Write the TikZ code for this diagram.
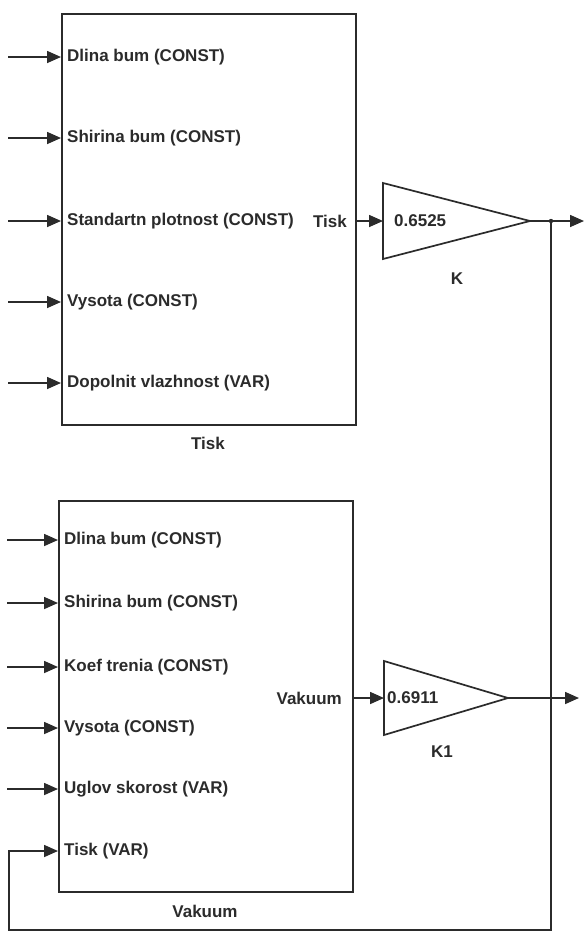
\documentclass[tikz,border=0pt]{standalone}
\usepackage{fontspec}
\setmainfont{Liberation Sans}
\usetikzlibrary{arrows.meta}
\definecolor{ink}{HTML}{2B2B2B}
\begin{document}
\begin{tikzpicture}[x=1pt,y=-1pt,
  wire/.style={draw=ink, line width=1.6pt},
  sig/.style={wire, -{Triangle[length=14pt,width=12pt]}},
  blk/.style={draw=ink, line width=1.7pt, anchor=north west, inner sep=0pt},
  lbl/.style={font=\fontsize{17}{20}\selectfont\bfseries, text=ink, inner sep=0pt},
  gain/.style={draw=ink, line width=1.7pt, line join=miter, fill=white},
]
\useasboundingbox (0,0) rectangle (585,932);
\fill[white] (0,0) rectangle (585,932);

% ---------- block Tisk ----------
\node[blk, minimum width=294pt, minimum height=411pt] (tisk) at (61,13) {};
\node[lbl] (tiskname) at (208,443) {Tisk};

\foreach \yy/\nm/\txt in {57/a/{Dlina bum (CONST)},
                         138/b/{Shirina bum (CONST)},
                         221/c/{Standartn plotnost (CONST)},
                         302/d/{Vysota (CONST)},
                         383/e/{Dopolnit vlazhnost (VAR)}}{
  \coordinate (tsrc\nm) at (8,\yy);
  \coordinate (tin\nm) at (61,\yy);
  \draw[sig] (tsrc\nm) -- (tin\nm);
  \node[lbl, anchor=west] (tlab\nm) at (67,\yy) {\txt};
}
\node[lbl, anchor=east] (tout) at (347,221) {Tisk};
\coordinate (toutp) at (355,221);

% ---------- gain K ----------
\coordinate (kA) at (383,183);
\coordinate (kB) at (383,259);
\coordinate (kIn) at (383,221);
\coordinate (kT) at (530,221);
\draw[gain] (kA) -- (kT) -- (kB) -- cycle;
\node[lbl, anchor=west] (kval) at (394,221) {0.6525};
\node[lbl] (kname) at (457,279) {K};
\draw[sig] (toutp) -- (kIn);

\coordinate (jn) at (551,221);
\coordinate (kOut) at (584,221);
\draw[sig] (kT) -- (kOut);
\fill[ink] (jn) circle (2.2pt);

% ---------- block Vakuum ----------
\node[blk, minimum width=294pt, minimum height=391pt] (vak) at (58,500) {};
\node[lbl] (vakname) at (205,911) {Vakuum};

\foreach \yy/\nm/\txt in {540/a/{Dlina bum (CONST)},
                         603/b/{Shirina bum (CONST)},
                         667/c/{Koef trenia (CONST)},
                         728/d/{Vysota (CONST)},
                         789/e/{Uglov skorost (VAR)}}{
  \coordinate (vsrc\nm) at (7,\yy);
  \coordinate (vin\nm) at (58,\yy);
  \draw[sig] (vsrc\nm) -- (vin\nm);
  \node[lbl, anchor=west] (vlab\nm) at (64,\yy) {\txt};
}
\coordinate (vinf) at (58,851);
\node[lbl, anchor=west] (vlabf) at (64,851) {Tisk (VAR)};
\node[lbl, anchor=east] (vout) at (342,698) {Vakuum};
\coordinate (voutp) at (352,698);

% ---------- gain K1 ----------
\coordinate (k1A) at (384,661);
\coordinate (k1B) at (384,735);
\coordinate (k1In) at (384,698);
\coordinate (k1T) at (508,698);
\draw[gain] (k1A) -- (k1T) -- (k1B) -- cycle;
\node[lbl, anchor=west] (k1val) at (387,698) {0.6911};
\node[lbl] (k1name) at (442,752) {K1};
\draw[sig] (voutp) -- (k1In);
\coordinate (k1Out) at (579,698);
\draw[sig] (k1T) -- (k1Out);

% ---------- feedback ----------
\coordinate (fb1) at (551,930);
\coordinate (fb2) at (9,930);
\coordinate (fb3) at (9,851);
\draw[sig] (jn) -- (fb1) -- (fb2) -- (fb3) -- (vinf);
\end{tikzpicture}
\end{document}
